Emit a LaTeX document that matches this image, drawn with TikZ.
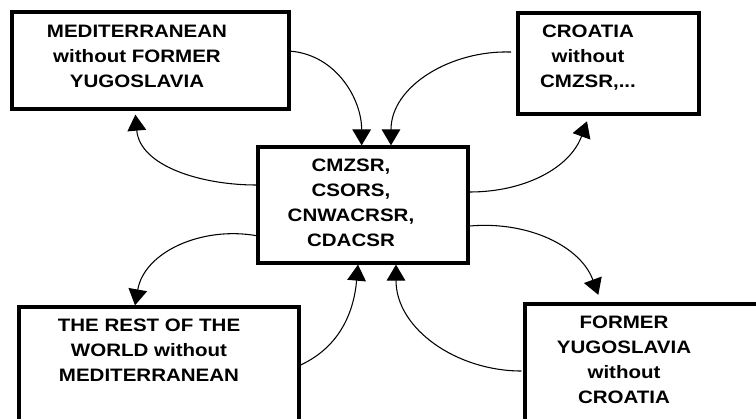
\documentclass[tikz,border=0pt]{standalone}
\usepackage{fontspec}
\setmainfont{Liberation Sans}
\newfontfamily\boxfont[FakeStretch=1.14]{Liberation Sans}
\usepackage{tikz}
\usetikzlibrary{arrows.meta,fit}

\begin{document}
\begin{tikzpicture}[x=0.75pt,y=-0.75pt,
  region/.style={draw,line width=2.5pt,inner sep=0pt},
  regtext/.style={font=\boxfont\bfseries\fontsize{13.5}{18.75}\selectfont,align=center,inner sep=0pt},
  flow/.style={line width=0.8pt,-{Triangle[length=12pt,width=14pt]}}]
\clip (0,0) rectangle (756,418);

\node[region,fit={(12,12) (289,109)}] (med) {};
\node[region,fit={(518,13) (699,114)}] (cro) {};
\node[region,fit={(258,147) (468,263)}] (core) {};
\node[region,fit={(19,307) (299,440)}] (row) {};
\node[region,fit={(525,304) (780,440)}] (fyu) {};

\node[regtext] (medtext) at (137,56) {MEDITERRANEAN\\without FORMER\\YUGOSLAVIA};
\node[regtext] (crotext) at (588,57.5) {CROATIA\\without\\CMZSR,...};
\node[regtext] (coretext) at (351,203) {CMZSR,\\CSORS,\\CNWACRSR,\\CDACSR};
\node[regtext] (rowtext) at (149,350.5) {THE REST OF THE\\WORLD without\\MEDITERRANEAN};
\node[regtext] (fyutext) at (624,359.5) {FORMER\\YUGOSLAVIA\\without\\CROATIA};

\draw[flow] ([yshift=7pt]med.east) to[out=-5,in=90] ([xshift=-1pt]core.north);
\draw[flow] ([yshift=8.6pt,xshift=-4pt]cro.west) to[out=178,in=90] ([xshift=21pt]core.north);
\draw[flow,shorten >=3pt] ([yshift=15pt]core.west) to[out=180,in=-85] ([xshift=-11.6pt]med.south);
\draw[flow,shorten >=4.5pt] ([yshift=9.75pt]core.east) to[out=0,in=-110] ([xshift=-14.6pt]cro.south);
\draw[flow] ([yshift=-23pt]core.west) to[out=170,in=80] ([xshift=-18pt]row.north);
\draw[flow] ([yshift=6.4pt]row.east) to[out=25,in=-95] ([xshift=-3.75pt]core.south);
\draw[flow,shorten >=6pt] ([yshift=-15.75pt]core.east) to[out=5,in=110] ([xshift=-38.6pt]fyu.north);
\draw[flow] ([xshift=-1.5pt,yshift=0.75pt]fyu.west) to[out=180,in=-90] ([xshift=24.75pt]core.south);
\end{tikzpicture}
\end{document}
